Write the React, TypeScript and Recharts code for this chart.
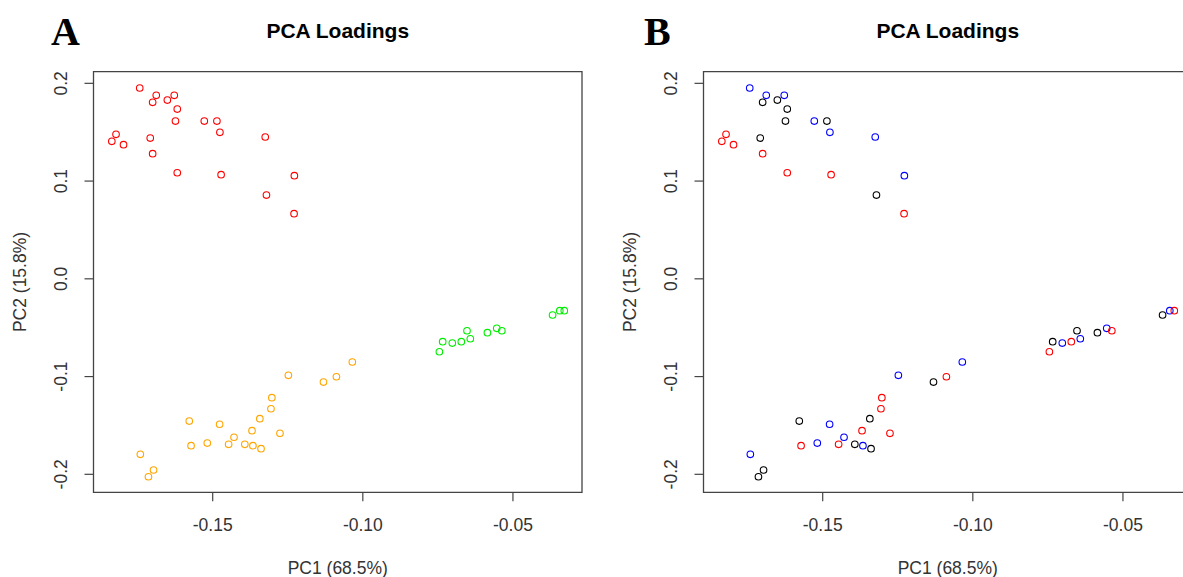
import React from "react";
import { ScatterChart, Scatter, XAxis, YAxis, ReferenceArea, Label } from "recharts";

// loadings of the three clusters (panel A colours), with the colour each one gets in panel B
const cluster1PC1 = [-0.1743, -0.1688, -0.17, -0.1651, -0.1628, -0.1618, -0.1624, -0.1528, -0.1486, -0.1476, -0.1325, -0.1822, -0.1836, -0.1797, -0.1708, -0.17, -0.1618, -0.1472, -0.1228, -0.1321, -0.1229];
const cluster1PC2 = [0.1952, 0.1877, 0.1806, 0.1829, 0.1877, 0.1737, 0.1614, 0.1614, 0.1614, 0.1499, 0.1451, 0.1478, 0.1407, 0.1372, 0.144, 0.128, 0.1085, 0.1065, 0.1055, 0.0857, 0.0666];
const cluster1B = ["blue", "blue", "black", "black", "blue", "black", "black", "blue", "black", "blue", "blue", "red", "red", "red", "black", "red", "red", "red", "blue", "black", "red"];

const cluster2PC1 = [-0.1248, -0.1131, -0.1088, -0.1035, -0.1303, -0.1306, -0.1343, -0.1369, -0.1276, -0.1429, -0.1447, -0.1393, -0.1366, -0.1339, -0.1477, -0.1518, -0.1578, -0.1572, -0.1741, -0.1697, -0.1714];
const cluster2PC2 = [-0.0987, -0.1056, -0.1002, -0.0851, -0.1216, -0.1329, -0.1431, -0.1554, -0.1581, -0.1621, -0.1693, -0.1693, -0.1707, -0.1738, -0.1488, -0.168, -0.1455, -0.1707, -0.1795, -0.1956, -0.2025];
const cluster2B = ["blue", "black", "red", "blue", "red", "red", "black", "red", "red", "blue", "red", "black", "blue", "black", "blue", "blue", "black", "red", "blue", "black", "black"];

const cluster3PC1 = [-0.0745, -0.0734, -0.0702, -0.0672, -0.0653, -0.0642, -0.0585, -0.0554, -0.0537, -0.0368, -0.0344, -0.0329];
const cluster3PC2 = [-0.0746, -0.0643, -0.0657, -0.0643, -0.0531, -0.0613, -0.0551, -0.0506, -0.0531, -0.037, -0.0326, -0.0326];
const cluster3B = ["red", "black", "blue", "red", "black", "blue", "black", "blue", "red", "black", "blue", "red"];

const xTicks = [-0.15, -0.1, -0.05];
const yTicks = [-0.2, -0.1, 0, 0.1, 0.2];
const xDomain = [-0.1897, -0.027];
const yDomain = [-0.2184, 0.2119];

const colA = { c1: "#ff0000", c2: "#ffa500", c3: "#00ee00" };
const colB: Record<string, string> = { black: "#000000", blue: "#0000ff", red: "#ff0000" };

const FONT = '"Liberation Sans", Arial, sans-serif';
const INK = "#333";
const FRAME = "#444";

const toPoints = (xs: number[], ys: number[]) => xs.map((x, i) => ({ x, y: ys[i] }));

const seriesA = [
  { key: "c1", color: colA.c1, data: toPoints(cluster1PC1, cluster1PC2) },
  { key: "c2", color: colA.c2, data: toPoints(cluster2PC1, cluster2PC2) },
  { key: "c3", color: colA.c3, data: toPoints(cluster3PC1, cluster3PC2) },
];

const allB = [
  ...cluster1PC1.map((x, i) => ({ x, y: cluster1PC2[i], g: cluster1B[i] })),
  ...cluster2PC1.map((x, i) => ({ x, y: cluster2PC2[i], g: cluster2B[i] })),
  ...cluster3PC1.map((x, i) => ({ x, y: cluster3PC2[i], g: cluster3B[i] })),
];
const seriesB = ["black", "blue", "red"].map((g) => ({
  key: g,
  color: colB[g],
  data: allB.filter((p) => p.g === g).map(({ x, y }) => ({ x, y })),
}));

const ring = (color: string) => (props: any) => (
  <circle cx={props.cx} cy={props.cy} r={3.3} fill="none" stroke={color} strokeWidth={1.1} />
);

const XTick = ({ x, y, payload }: any) => (
  <text x={x} y={y + 22} textAnchor="middle" dominantBaseline="central" fontFamily={FONT} fontSize={17.5} fill={INK}>
    {payload.value.toFixed(2)}
  </text>
);

const YTick = ({ x, y, payload }: any) => (
  <text
    x={x - 21}
    y={y}
    transform={`rotate(-90, ${x - 21}, ${y})`}
    textAnchor="middle"
    dominantBaseline="central"
    fontFamily={FONT}
    fontSize={17.5}
    fill={INK}
  >
    {payload.value.toFixed(1)}
  </text>
);

const W = 610;
const H = 577;
const margin = { top: 71.7, right: 28, bottom: 54.7, left: 33.5 };

function Panel({ left, letter, letterX, series }: any) {
  return (
    <div style={{ position: "absolute", left, top: 0, width: W, height: H }}>
      <ScatterChart width={W} height={H} margin={margin}>
        <XAxis
          type="number"
          dataKey="x"
          domain={xDomain}
          allowDataOverflow
          ticks={xTicks}
          tick={<XTick />}
          tickSize={9}
          tickLine={{ stroke: FRAME, strokeWidth: 1.2 }}
          axisLine={false}
          height={30}
        >
          <Label
            content={({ viewBox }: any) => (
              <text
                x={viewBox.x + viewBox.width / 2}
                y={viewBox.y + 75.7}
                textAnchor="middle"
                dominantBaseline="central"
                fontFamily={FONT}
                fontSize={17.5}
                fill={INK}
              >
                PC1 (68.5%)
              </text>
            )}
          />
        </XAxis>
        <YAxis
          type="number"
          dataKey="y"
          domain={yDomain}
          allowDataOverflow
          ticks={yTicks}
          tick={<YTick />}
          tickSize={9}
          tickLine={{ stroke: FRAME, strokeWidth: 1.2 }}
          axisLine={false}
          width={60}
        >
          <Label
            content={({ viewBox }: any) => {
              const cx = viewBox.x + viewBox.width - 73.5;
              const cy = viewBox.y + viewBox.height / 2;
              return (
                <text
                  x={cx}
                  y={cy}
                  transform={`rotate(-90, ${cx}, ${cy})`}
                  textAnchor="middle"
                  dominantBaseline="central"
                  fontFamily={FONT}
                  fontSize={17.5}
                  fill={INK}
                >
                  PC2 (15.8%)
                </text>
              );
            }}
          />
        </YAxis>
        <ReferenceArea
          x1={xDomain[0]}
          x2={xDomain[1]}
          y1={yDomain[0]}
          y2={yDomain[1]}
          fill="none"
          stroke={FRAME}
          strokeWidth={1.3}
        />
        {series.map((s: any) => (
          <Scatter key={s.key} data={s.data} shape={ring(s.color)} isAnimationActive={false} />
        ))}
      </ScatterChart>
      <div
        style={{
          position: "absolute",
          left: letterX,
          top: 11.5,
          fontFamily: '"Liberation Serif", "Times New Roman", serif',
          fontWeight: "bold",
          fontSize: 40,
          lineHeight: "40px",
          color: "#000",
        }}
      >
        {letter}
      </div>
      <div
        style={{
          position: "absolute",
          left: 93.5,
          width: 488.5,
          top: 18.7,
          textAlign: "center",
          fontFamily: FONT,
          fontWeight: "bold",
          fontSize: 21,
          lineHeight: "24px",
          color: "#000",
        }}
      >
        PCA Loadings
      </div>
    </div>
  );
}

export default function App() {
  return (
    <div
      style={{
        position: "absolute",
        left: 0,
        top: 0,
        width: 1183,
        height: 577,
        overflow: "hidden",
        background: "#fff",
      }}
    >
      <Panel left={0} letter="A" letterX={51} series={seriesA} />
      <Panel left={610} letter="B" letterX={34} series={seriesB} />
    </div>
  );
}
